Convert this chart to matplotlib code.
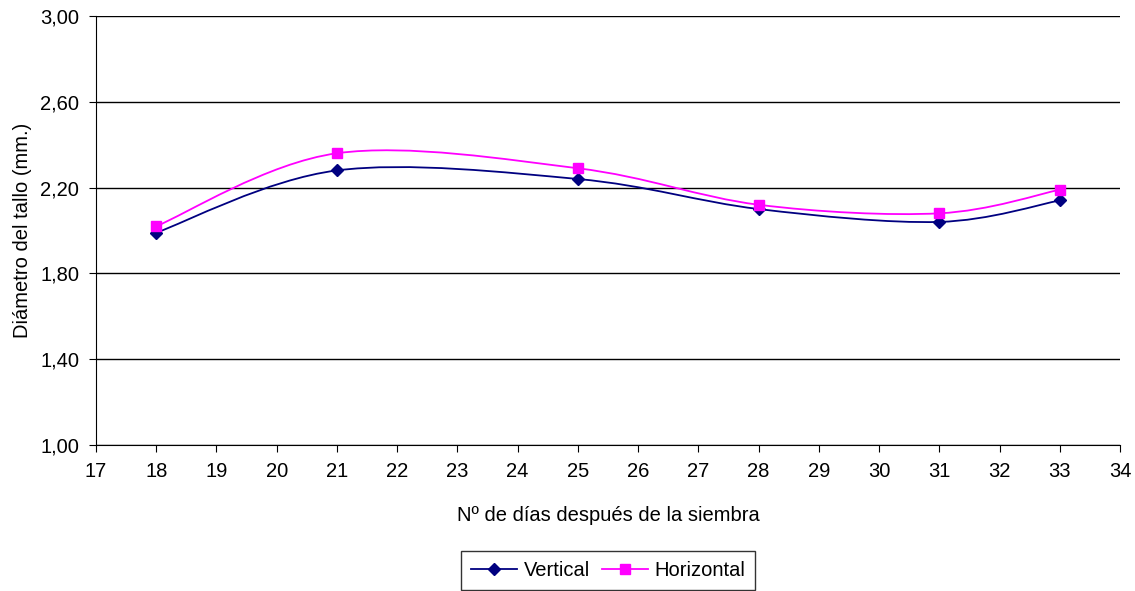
import matplotlib.pyplot as plt
from matplotlib.path import Path
from matplotlib.patches import PathPatch
from matplotlib.lines import Line2D
from matplotlib.ticker import FuncFormatter
import numpy as np

plt.rcParams['font.family'] = ['Liberation Sans', 'DejaVu Sans']

dias = [18, 21, 25, 28, 31, 33]
vertical = [1.99, 2.28, 2.24, 2.10, 2.04, 2.14]
horizontal = [2.02, 2.36, 2.29, 2.12, 2.08, 2.19]


def smooth_path(xs, ys):
    # bezier smoothing like the spreadsheet "smoothed line"
    pts = np.column_stack([xs, ys]).astype(float)
    n = len(pts)
    verts = [pts[0]]
    codes = [Path.MOVETO]
    for i in range(n - 1):
        p0 = pts[i - 1] if i > 0 else pts[i]
        p1 = pts[i]
        p2 = pts[i + 1]
        p3 = pts[i + 2] if i + 2 < n else pts[i + 1]
        c1 = p1 + (p2 - p0) / 6.0
        c2 = p2 - (p3 - p1) / 6.0
        verts += [c1, c2, p2]
        codes += [Path.CURVE4] * 3
    return Path(verts, codes)


fs = 14.5
fig = plt.figure(figsize=(11.35, 5.91), dpi=100)
ax = fig.add_axes([0.0846, 0.247, 0.9022, 0.726])

for ys, col, mk, ms, lab in [(vertical, '#000080', 'D', 6.5, 'Vertical'),
                             (horizontal, '#FF00FF', 's', 7, 'Horizontal')]:
    ax.add_patch(PathPatch(smooth_path(dias, ys), facecolor='none',
                           edgecolor=col, lw=1.3, zorder=3))
    ax.plot(dias, ys, linestyle='none', marker=mk, color=col, ms=ms, zorder=4)

ax.set_xlim(17, 34)
ax.set_ylim(1.0, 3.0)
ax.set_xticks(range(17, 35))
ax.set_yticks([1.0, 1.4, 1.8, 2.2, 2.6, 3.0])
ax.yaxis.set_major_formatter(FuncFormatter(lambda v, p: f"{v:.2f}".replace('.', ',')))
ax.grid(axis='y', color='black', lw=1)
ax.set_axisbelow(True)
for s in ['top', 'right']:
    ax.spines[s].set_visible(False)
ax.tick_params(direction='out', length=5, labelsize=fs)
ax.tick_params(axis='x', pad=7)
ax.tick_params(axis='y', pad=7)
ax.set_xlabel('Nº de días después de la siembra', fontsize=fs, labelpad=18)
ax.set_ylabel('Diámetro del tallo (mm.)', fontsize=fs, labelpad=6)

handles = [Line2D([], [], color='#000080', marker='D', ms=6.5, lw=1.3, label='Vertical'),
           Line2D([], [], color='#FF00FF', marker='s', ms=7, lw=1.3, label='Horizontal')]
leg = ax.legend(handles=handles, loc='upper center', bbox_to_anchor=(0.5, -0.247),
                ncol=2, frameon=True, fancybox=False, edgecolor='black',
                fontsize=fs, handlelength=2.3, handletextpad=0.3,
                columnspacing=0.6, borderpad=0.5, borderaxespad=0)
leg.get_frame().set_linewidth(1)

fig.savefig('out.png', dpi=100)
